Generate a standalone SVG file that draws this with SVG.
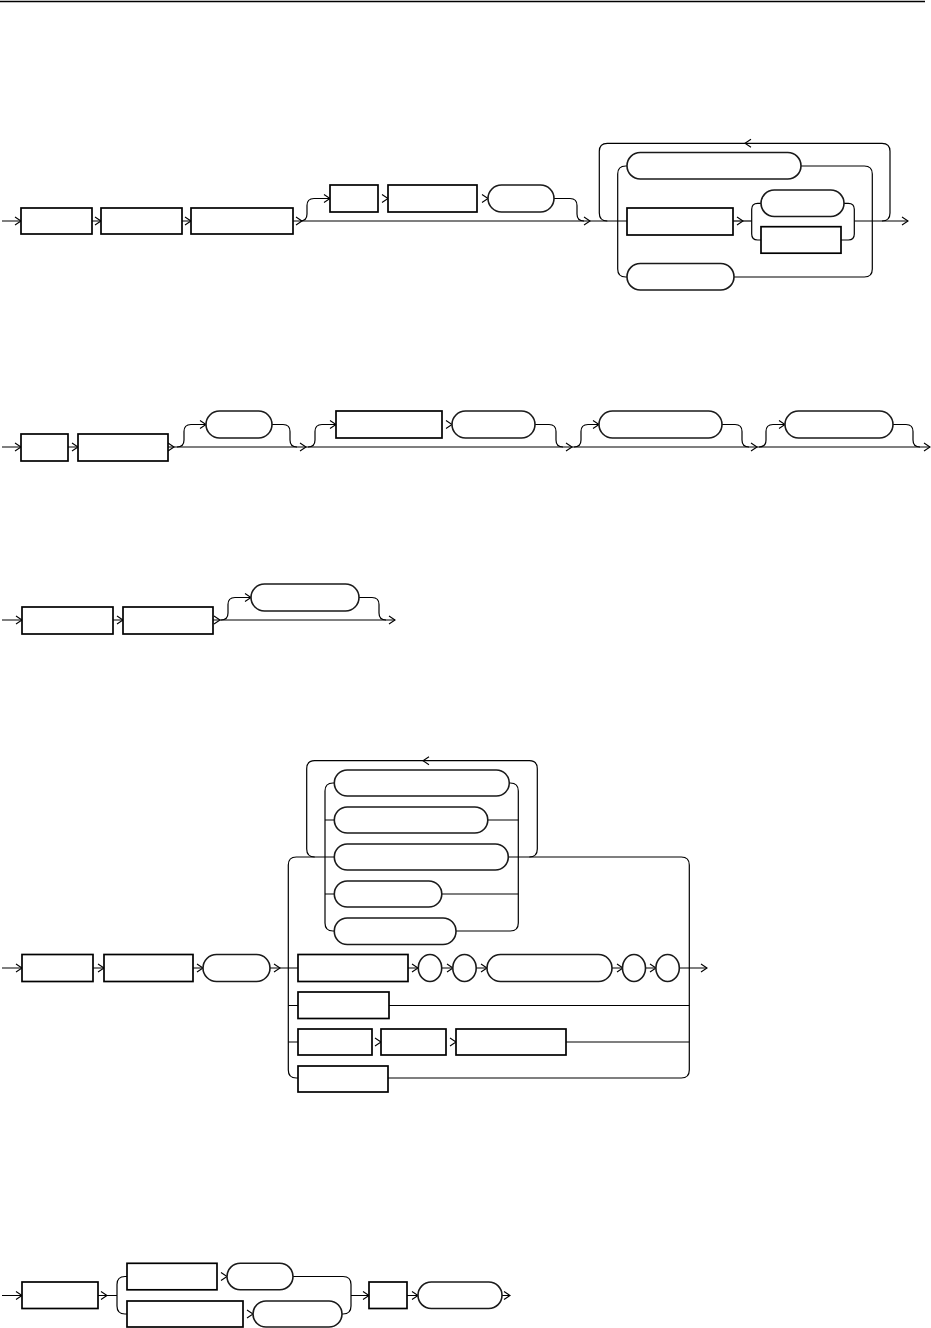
<svg xmlns="http://www.w3.org/2000/svg" xmlns:xlink="http://www.w3.org/1999/xlink" width="931" height="1328" viewBox="0 0 931 1328">
<style>
.ln{fill:none;stroke:#000;stroke-width:1.2}
.bx{fill:#fff;stroke:#000;stroke-width:1.7}
.ov{fill:#fff;stroke:#1a1a1a;stroke-width:1.6}
.ar{fill:none;stroke:#000;stroke-width:1.1}
</style>
<defs>
<path id="ar" class="ar" d="M-6,-4 L0,0 L-6,4"/>
<path id="al" class="ar" d="M6,-4 L0,0 L6,4"/>
</defs>
<line x1="0" y1="1.5" x2="925" y2="1.5" stroke="#000" stroke-width="1.5"/>
<g id="connectors">
<!-- diagram 1 -->
<path class="ln" d="M2 221 H627"/>
<path class="ln" d="M300 221 q7 0 7 -7 V205.5 q0 -7 7 -7 H330"/>
<path class="ln" d="M554 198.5 H570 q7 0 7 7 V214 q0 7 7 7"/>
<path class="ln" d="M627 166 H625.7 q-8 0 -8 8 V269 q0 8 8 8 H627"/>
<path class="ln" d="M801 166 H864.3 q8 0 8 8 V269 q0 8 -8 8 H734"/>
<path class="ln" d="M882 221 q8 0 8 -8 V151.3 q0 -8 -8 -8 H607.3 q-8 0 -8 8 V213 q0 8 8 8"/>
<path class="ln" d="M733 221 H751.7"/>
<path class="ln" d="M761 203.3 H757.7 q-6 0 -6 6 V234 q0 6 6 6 H761"/>
<path class="ln" d="M844 203.3 H848.3 q6 0 6 6 V234 q0 6 -6 6 H841"/>
<path class="ln" d="M854.3 221 H908"/>
<!-- diagram 2 -->
<path class="ln" d="M2 447 H930"/>
<path class="ln" d="M177 447 q7 0 7 -7 V431.5 q0 -7 7 -7 H206"/>
<path class="ln" d="M272 424.5 H283 q7 0 7 7 V440 q0 7 7 7"/>
<path class="ln" d="M308 447 q7 0 7 -7 V431.5 q0 -7 7 -7 H336"/>
<path class="ln" d="M535 424.5 H549 q7 0 7 7 V440 q0 7 7 7"/>
<path class="ln" d="M574 447 q7 0 7 -7 V431.5 q0 -7 7 -7 H599"/>
<path class="ln" d="M722 424.5 H735 q7 0 7 7 V440 q0 7 7 7"/>
<path class="ln" d="M759 447 q7 0 7 -7 V431.5 q0 -7 7 -7 H785"/>
<path class="ln" d="M893 424.5 H906 q7 0 7 7 V440 q0 7 7 7"/>
<!-- diagram 3 -->
<path class="ln" d="M2 620 H395"/>
<path class="ln" d="M221 620 q7 0 7 -7 V604.5 q0 -7 7 -7 H251"/>
<path class="ln" d="M359 597.5 H372 q7 0 7 7 V613 q0 7 7 7"/>
<!-- diagram 4 -->
<path class="ln" d="M2 968 H707"/>
<path class="ln" d="M288.3 968 V865 q0 -8 8 -8 H334.3"/>
<path class="ln" d="M288.3 968 V1070 q0 8 8 8 H298"/>
<path class="ln" d="M508 857 H681.3 q8 0 8 8 V1070 q0 8 -8 8 H388"/>
<path class="ln" d="M288.3 1005.5 H298 M389 1005.5 H689.3"/>
<path class="ln" d="M288.3 1042 H298 M566 1042 H689.3"/>
<path class="ln" d="M529.3 857 q8 0 8 -8 V768.7 q0 -8 -8 -8 H314.7 q-8 0 -8 8 V849 q0 8 8 8"/>
<path class="ln" d="M334.3 783 H333 q-8 0 -8 8 V923 q0 8 8 8 H334.3"/>
<path class="ln" d="M509 783 H510.3 q8 0 8 8 V923 q0 8 -8 8 H456"/>
<path class="ln" d="M325 820 H334.3 M488 820 H518.3"/>
<path class="ln" d="M325 894 H334.3 M442 894 H518.3"/>
<!-- diagram 5 -->
<path class="ln" d="M2 1295.5 H117"/>
<path class="ln" d="M127 1276.5 H125 q-8 0 -8 8 V1306 q0 8 8 8 H127"/>
<path class="ln" d="M293 1276.5 H343 q8 0 8 8 V1306 q0 8 -8 8 H342"/>
<path class="ln" d="M351 1295.5 H510"/>
<!-- arrows -->
<use href="#ar" x="21" y="221"/><use href="#ar" x="101" y="221"/><use href="#ar" x="191" y="221"/>
<use href="#ar" x="302" y="221"/><use href="#ar" x="330" y="198.5"/><use href="#ar" x="388" y="198.5"/>
<use href="#ar" x="488" y="198.5"/><use href="#ar" x="590" y="221"/><use href="#ar" x="743" y="221"/>
<use href="#ar" x="908" y="221"/><use href="#al" x="745" y="143.3"/>
<use href="#ar" x="21" y="447"/><use href="#ar" x="78" y="447"/><use href="#ar" x="174" y="447"/>
<use href="#ar" x="206" y="424.5"/><use href="#ar" x="306" y="447"/><use href="#ar" x="336" y="424.5"/>
<use href="#ar" x="452" y="424.5"/><use href="#ar" x="572" y="447"/><use href="#ar" x="599" y="424.5"/>
<use href="#ar" x="757" y="447"/><use href="#ar" x="785" y="424.5"/><use href="#ar" x="930" y="447"/>
<use href="#ar" x="22" y="620"/><use href="#ar" x="123" y="620"/><use href="#ar" x="220" y="620"/>
<use href="#ar" x="251" y="597.5"/><use href="#ar" x="395" y="620"/>
<use href="#ar" x="22" y="968"/><use href="#ar" x="104" y="968"/><use href="#ar" x="203" y="968"/>
<use href="#ar" x="280" y="968"/><use href="#ar" x="418" y="968"/><use href="#ar" x="453" y="968"/>
<use href="#ar" x="487" y="968"/><use href="#ar" x="623" y="968"/><use href="#ar" x="656" y="968"/>
<use href="#ar" x="707" y="968"/><use href="#ar" x="381" y="1042"/><use href="#ar" x="456" y="1042"/>
<use href="#al" x="423" y="760.7"/>
<use href="#ar" x="22" y="1295.5"/><use href="#ar" x="107" y="1295.5"/><use href="#ar" x="227" y="1276.5"/>
<use href="#ar" x="253" y="1314"/><use href="#ar" x="369" y="1295.5"/><use href="#ar" x="418" y="1295.5"/>
<use href="#ar" x="510" y="1295.5"/>
</g>
<!-- diagram 1 nodes -->
<g id="d1n1"><rect class="bx" x="21" y="208" width="71" height="26"/></g>
<g id="d1n2"><rect class="bx" x="101" y="208" width="81" height="26"/></g>
<g id="d1n3"><rect class="bx" x="191" y="208" width="102" height="26"/></g>
<g id="d1n4"><rect class="bx" x="330" y="185" width="48" height="27"/></g>
<g id="d1n5"><rect class="bx" x="388" y="185" width="89" height="27"/></g>
<g id="d1n6"><rect class="ov" x="488" y="185" width="66" height="27" rx="13.5"/></g>
<g id="d1n7"><rect class="ov" x="627" y="152.5" width="174" height="26.5" rx="13.25"/></g>
<g id="d1n8"><rect class="bx" x="627" y="208" width="106" height="27"/></g>
<g id="d1n9"><rect class="ov" x="761" y="190" width="83" height="26.5" rx="13.25"/></g>
<g id="d1n10"><rect class="bx" x="761" y="226.7" width="80" height="26.5"/></g>
<g id="d1n11"><rect class="ov" x="627" y="263.5" width="107" height="26.5" rx="13.25"/></g>
<!-- diagram 2 nodes -->
<g id="d2n1"><rect class="bx" x="21" y="434" width="47" height="27"/></g>
<g id="d2n2"><rect class="bx" x="78" y="434" width="90" height="27"/></g>
<g id="d2n3"><rect class="ov" x="206" y="411" width="66" height="27" rx="13.5"/></g>
<g id="d2n4"><rect class="bx" x="336" y="411" width="106" height="27"/></g>
<g id="d2n5"><rect class="ov" x="452" y="411" width="83" height="27" rx="13.5"/></g>
<g id="d2n6"><rect class="ov" x="599" y="411" width="123" height="27" rx="13.5"/></g>
<g id="d2n7"><rect class="ov" x="785" y="411" width="108" height="27" rx="13.5"/></g>
<!-- diagram 3 nodes -->
<g id="d3n1"><rect class="bx" x="22" y="607" width="91" height="27"/></g>
<g id="d3n2"><rect class="bx" x="123" y="607" width="90" height="27"/></g>
<g id="d3n3"><rect class="ov" x="251" y="584" width="108" height="27" rx="13.5"/></g>
<!-- diagram 4 nodes -->
<g id="d4n1"><rect class="bx" x="22" y="954.5" width="71" height="27"/></g>
<g id="d4n2"><rect class="bx" x="104" y="954.5" width="89" height="27"/></g>
<g id="d4n3"><rect class="ov" x="203" y="954.5" width="67" height="27" rx="13.5"/></g>
<g id="d4n4"><rect class="ov" x="334.3" y="770" width="175" height="26" rx="13"/></g>
<g id="d4n5"><rect class="ov" x="334.3" y="807" width="153.5" height="26" rx="13"/></g>
<g id="d4n6"><rect class="ov" x="334.3" y="844" width="174" height="26" rx="13"/></g>
<g id="d4n7"><rect class="ov" x="334.3" y="881" width="107.5" height="26" rx="13"/></g>
<g id="d4n8"><rect class="ov" x="334.3" y="918" width="121.7" height="26.5" rx="13"/></g>
<g id="d4n9"><rect class="bx" x="298" y="954.5" width="110" height="27"/></g>
<g id="d4n10"><ellipse class="ov" cx="430" cy="968" rx="11.7" ry="13.5"/></g>
<g id="d4n11"><ellipse class="ov" cx="464.5" cy="968" rx="11.7" ry="13.5"/></g>
<g id="d4n12"><rect class="ov" x="487" y="954.5" width="125" height="27" rx="13.5"/></g>
<g id="d4n13"><ellipse class="ov" cx="634" cy="968" rx="11.5" ry="13.5"/></g>
<g id="d4n14"><ellipse class="ov" cx="667.6" cy="968" rx="11.7" ry="13.5"/></g>
<g id="d4n15"><rect class="bx" x="298" y="992" width="91" height="26.5"/></g>
<g id="d4n16"><rect class="bx" x="298" y="1029" width="74" height="26"/></g>
<g id="d4n17"><rect class="bx" x="381" y="1029" width="65" height="26"/></g>
<g id="d4n18"><rect class="bx" x="456" y="1029" width="110" height="26"/></g>
<g id="d4n19"><rect class="bx" x="298" y="1066" width="90" height="26"/></g>
<!-- diagram 5 nodes -->
<g id="d5n1"><rect class="bx" x="22" y="1282" width="76" height="26.5"/></g>
<g id="d5n2"><rect class="bx" x="127" y="1263.3" width="90" height="26.5"/></g>
<g id="d5n3"><rect class="ov" x="227" y="1263.3" width="66" height="26.5" rx="13.25"/></g>
<g id="d5n4"><rect class="bx" x="127" y="1301" width="116" height="26"/></g>
<g id="d5n5"><rect class="ov" x="253" y="1301" width="89" height="26" rx="13"/></g>
<g id="d5n6"><rect class="bx" x="369" y="1282" width="38" height="26.5"/></g>
<g id="d5n7"><rect class="ov" x="418" y="1282" width="84" height="26.5" rx="13.25"/></g>
</svg>
